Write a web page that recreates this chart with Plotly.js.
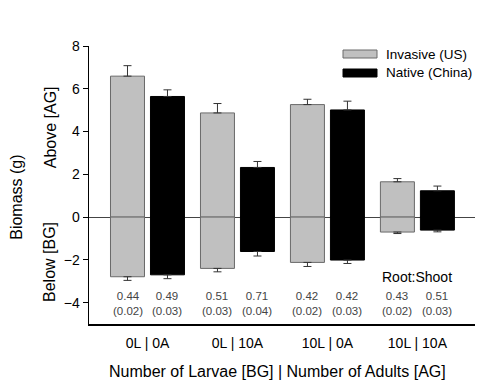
<!DOCTYPE html>
<html>
<head>
<meta charset="utf-8">
<script src="https://cdn.plot.ly/plotly-3.0.1.min.js"></script>
<style>html,body{margin:0;padding:0;background:#fff;}#chart{width:500px;height:381px;}</style>
</head>
<body>
<div id="chart"></div>
<script>
const categories = ["0L | 0A", "0L | 10A", "10L | 0A", "10L | 10A"];
const invasiveAbove = [6.59, 4.87, 5.26, 1.65];
const invasiveAboveErr = [0.49, 0.44, 0.25, 0.15];
const nativeAbove = [5.64, 2.32, 5.01, 1.23];
const nativeAboveErr = [0.31, 0.28, 0.41, 0.22];
const invasiveBelow = [-2.79, -2.40, -2.12, -0.70];
const invasiveBelowErr = [0.17, 0.16, 0.19, 0.07];
const nativeBelow = [-2.70, -1.61, -2.01, -0.61];
const nativeBelowErr = [0.18, 0.21, 0.16, 0.08];
const invasiveRatio = ["0.44", "0.51", "0.42", "0.43"];
const invasiveRatioSE = ["(0.02)", "(0.03)", "(0.02)", "(0.02)"];
const nativeRatio = ["0.49", "0.71", "0.42", "0.51"];
const nativeRatioSE = ["(0.03)", "(0.04)", "(0.03)", "(0.03)"];
const seriesNames = ["Invasive (US)", "Native (China)"];

const FONT = "Arial, 'Liberation Sans', sans-serif";
const grayFill = "#c0c0c0", grayLine = "#6a6a6a";

function barTrace(y, err, up, fill, line, name, offsetgroup) {
  return {
    type: "bar", x: categories, y: y, name: name, offsetgroup: offsetgroup,
    marker: {color: fill, line: {color: line, width: 1}},
    error_y: {type: "data", symmetric: false,
      array: up ? err : err.map(() => 0),
      arrayminus: up ? err.map(() => 0) : err,
      color: "#333", thickness: 1, width: 4},
    showlegend: false, hoverinfo: "skip"
  };
}

const traces = [
  barTrace(invasiveAbove, invasiveAboveErr, true, grayFill, grayLine, seriesNames[0], "inv"),
  barTrace(nativeAbove, nativeAboveErr, true, "#000", "#000", seriesNames[1], "nat"),
  barTrace(invasiveBelow, invasiveBelowErr, false, grayFill, grayLine, seriesNames[0], "inv"),
  barTrace(nativeBelow, nativeBelowErr, false, "#000", "#000", seriesNames[1], "nat")
];

const off = 0.222;
const annotations = [];
const ratioFont = {family: FONT, size: 11.5, color: "#444"};
categories.forEach((c, i) => {
  annotations.push({x: i - off, y: -4.05, xref: "x", yref: "y", text: invasiveRatio[i] + "<br>" + invasiveRatioSE[i],
    showarrow: false, font: ratioFont, align: "center"});
  annotations.push({x: i + off, y: -4.05, xref: "x", yref: "y", text: nativeRatio[i] + "<br>" + nativeRatioSE[i],
    showarrow: false, font: ratioFont, align: "center"});
});
annotations.push({x: 3, y: -2.8, xref: "x", yref: "y", text: "Root:Shoot", showarrow: false,
  font: {family: FONT, size: 14, color: "#000"}});
// y side labels
const titleFont = {family: FONT, size: 16, color: "#000"};
annotations.push({x: (17 - 89) / 386, y: (217.3 - 198) / 21.4, xref: "paper", yref: "y", xanchor: "center", yanchor: "middle",
  text: "Biomass (g)", textangle: -90, showarrow: false, font: titleFont});
annotations.push({x: (50 - 89) / 386, y: 4.2, xref: "paper", yref: "y", xanchor: "center", yanchor: "middle",
  text: "Above [AG]", textangle: -90, showarrow: false, font: titleFont});
annotations.push({x: (50 - 89) / 386, y: -2.1, xref: "paper", yref: "y", xanchor: "center", yanchor: "middle",
  text: "Below [BG]", textangle: -90, showarrow: false, font: titleFont});
// x title
annotations.push({x: (277 - 89) / 386, y: (324 - 371) / 278, xref: "paper", yref: "paper", xanchor: "center", yanchor: "middle",
  text: "Number of Larvae [BG] | Number of Adults [AG]", showarrow: false, font: titleFont});
// legend
const legendItems = [{name: seriesNames[0], fill: grayFill, line: grayLine, y: 54},
                     {name: seriesNames[1], fill: "#000", line: "#000", y: 73}];
const shapes = [];
legendItems.forEach(it => {
  const yp = (324 - it.y) / 278;
  shapes.push({type: "rect", xref: "paper", yref: "paper",
    x0: (343 - 89) / 386, x1: (377 - 89) / 386, y0: yp - 4 / 278, y1: yp + 4 / 278,
    fillcolor: it.fill, line: {color: it.line, width: 1}});
  annotations.push({x: (384 - 89) / 386, y: yp, xref: "paper", yref: "paper", xanchor: "left", yanchor: "middle",
    text: it.name, showarrow: false, font: {family: FONT, size: 13.5, color: "#000"}});
});

const layout = {
  width: 500, height: 381,
  margin: {l: 89, r: 25, t: 46, b: 57},
  paper_bgcolor: "#fff", plot_bgcolor: "#fff",
  barmode: "overlay", bargap: 0.111, bargroupgap: 0.15,
  font: {family: FONT, size: 13, color: "#000"},
  xaxis: {type: "category", range: [-0.65, 3.64], showline: true, linecolor: "#000", linewidth: 1.5,
    ticks: "", showgrid: false, zeroline: false, ticklabelstandoff: 6,
    tickfont: {family: FONT, size: 14, color: "#000"}},
  yaxis: {range: [-5, 8], tickvals: [-4, -2, 0, 2, 4, 6, 8], showline: true, linecolor: "#000", linewidth: 1.5,
    ticks: "outside", ticklen: 5, tickcolor: "#000", showgrid: false,
    zeroline: true, zerolinecolor: "#444", zerolinewidth: 1,
    tickfont: {family: FONT, size: 14}},
  annotations: annotations, shapes: shapes, showlegend: false
};

Plotly.newPlot("chart", traces, layout, {staticPlot: true, displayModeBar: false});
</script>
</body>
</html>
